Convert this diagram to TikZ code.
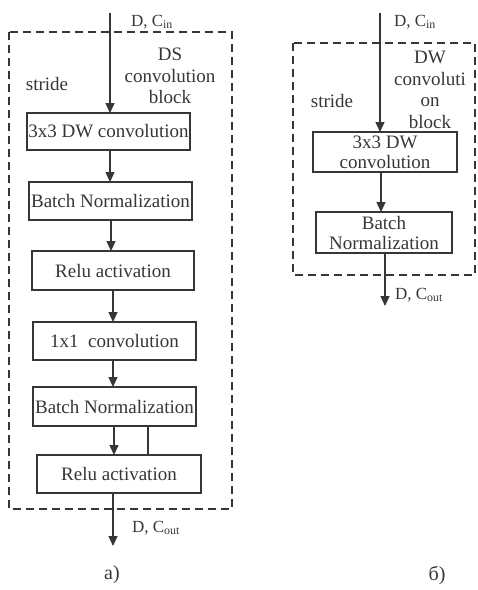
\documentclass[tikz,border=0pt]{standalone}
\usepackage{fontspec}
\setmainfont{Liberation Serif}
\usetikzlibrary{arrows.meta}
\definecolor{ink}{HTML}{363636}
\begin{document}
\begin{tikzpicture}[x=1pt,y=-1pt,
  every node/.style={text=ink, inner sep=0pt, outer sep=0pt},
  blk/.style={draw=ink, line width=1.3pt, align=center,
    font=\fontsize{19}{20}\selectfont},
  lbl/.style={font=\fontsize{19}{21.5}\selectfont, align=center},
  io/.style={font=\fontsize{17}{19}\selectfont, anchor=west},
  frame/.style={draw=ink, line width=1.4pt, dash pattern=on 8pt off 5pt},
  arr/.style={draw=ink, line width=1.3pt, -{Triangle[width=9pt,length=10pt]}},
  wire/.style={draw=ink, line width=1.3pt}]
\useasboundingbox (0,0) rectangle (478,590);

% ---------- (a) DS convolution block ----------
\draw[frame] (9,32) rectangle (232,509);
\node[blk, minimum width=163pt, minimum height=37pt] (b1) at (108.5,131.5) {3x3 DW convolution};
\node[blk, minimum width=163pt, minimum height=38pt] (b2) at (110.5,201) {Batch Normalization};
\node[blk, minimum width=162pt, minimum height=39pt] (b3) at (113,270.5) {Relu activation};
\node[blk, minimum width=163pt, minimum height=38pt] (b4) at (114.5,341) {1x1\ \ convolution};
\node[blk, minimum width=163pt, minimum height=39pt] (b5) at (114.5,406.5) {Batch Normalization};
\node[blk, minimum width=164pt, minimum height=38pt] (b6) at (119,474) {Relu activation};

\node[lbl] (dsname) at (170,76) {DS\\convolution\\block};
\node[lbl] (strideA) at (47,84) {stride};
\node[io] (inA) at (131,22) {D, C\textsubscript{in}};
\node[io] (outA) at (132,528) {D, C\textsubscript{out}};
\node[font=\fontsize{20}{22}\selectfont] (capA) at (112,575) {a)};

\coordinate (srcA) at (110,13);
\coordinate (dstA) at (113,546);
\draw[arr] (srcA) -- (srcA |- b1.north);
\draw[arr] ([xshift=1.5pt]b1.south) -- ([xshift=1.5pt]b1.south |- b2.north);
\draw[arr] ([xshift=0.5pt]b2.south) -- ([xshift=0.5pt]b2.south |- b3.north);
\draw[arr] (b3.south) -- (b3.south |- b4.north);
\draw[arr] ([xshift=-1.5pt]b4.south) -- ([xshift=-1.5pt]b4.south |- b5.north);
\draw[arr] ([xshift=-0.5pt]b5.south) -- ([xshift=-0.5pt]b5.south |- b6.north);
\draw[wire] ([xshift=33.5pt]b5.south) -- ([xshift=33.5pt]b5.south |- b6.north);
\draw[arr] (b6.south -| dstA) -- (dstA);

% ---------- (b) DW convolution block ----------
\draw[frame] (293,43) rectangle (475,275);
\node[blk, minimum width=144pt, minimum height=40pt] (c1) at (385,152) {3x3 DW\\convolution};
\node[blk, minimum width=136pt, minimum height=41pt] (c2) at (384,232.5) {Batch\\Normalization};

\node[lbl] (dwname) at (430,90) {DW\\convoluti\\on\\block};
\node[lbl] (strideB) at (332,101) {stride};
\node[io] (inB) at (394,22) {D, C\textsubscript{in}};
\node[io] (outB) at (395,295) {D, C\textsubscript{out}};
\node[font=\fontsize{20}{22}\selectfont] (capB) at (437,575) {б)};

\coordinate (srcB) at (380,13);
\coordinate (dstB) at (385,306);
\draw[arr] (srcB) -- (srcB |- c1.north);
\draw[arr] ([xshift=-4pt]c1.south) -- ([xshift=-4pt]c1.south |- c2.north);
\draw[arr] (c2.south -| dstB) -- (dstB);
\end{tikzpicture}
\end{document}
